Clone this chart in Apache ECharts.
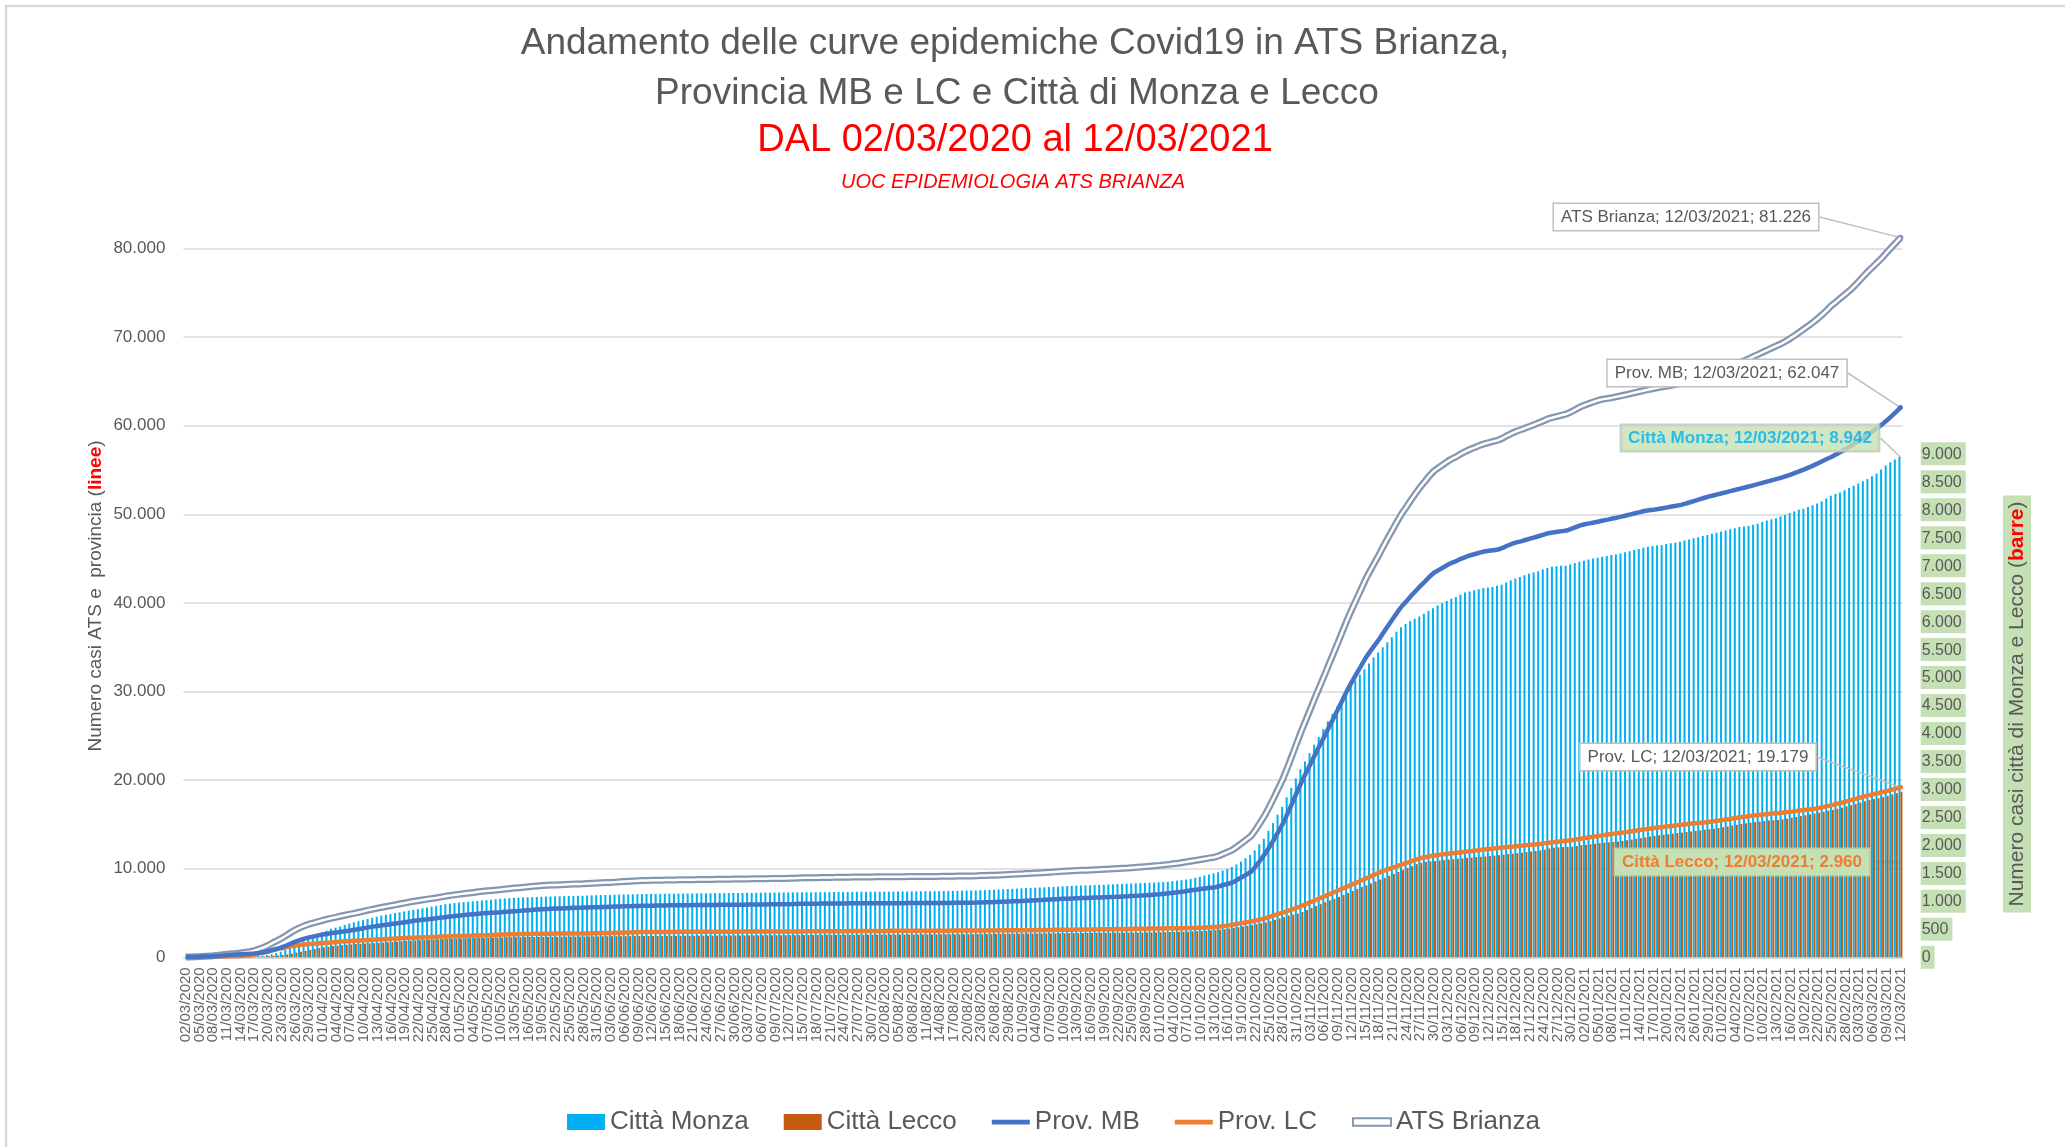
<!DOCTYPE html>
<html><head><meta charset="utf-8">
<script src="https://cdn.jsdelivr.net/npm/echarts@6/dist/echarts.min.js"></script>
<style>html,body{margin:0;padding:0;background:#fff}#c{width:2065px;height:1147px}</style>
</head><body><div id="c"></div>
<script>
function pad(n){return (n<10?'0':'')+n;}
// categories: daily dates 02/03/2020 .. 12/03/2021
const categories = (function(){const out=[];const t0=Date.UTC(2020,2,2);for(let i=0;i<376;i++){const d=new Date(t0+i*86400000);out.push(pad(d.getUTCDate())+'/'+pad(d.getUTCMonth()+1)+'/'+d.getUTCFullYear());}return out;})();
const LABEL_EVERY = 3;

const leftTicks = [0,10000,20000,30000,40000,50000,60000,70000,80000];
const rightTicks = [0,500,1000,1500,2000,2500,3000,3500,4000,4500,5000,5500,6000,6500,7000,7500,8000,8500,9000];

const cittaMonza = [
0,0,0,1,2,3,4,5,6,8,
10,12,14,16,18,22,26,30,40,55,
75,100,130,170,220,260,300,335,370,405,
440,475,510,530,550,580,605,625,645,665,
685,705,725,745,760,775,790,805,820,835,
846,860,875,890,905,920,935,950,960,970,
978,985,992,1000,1008,1015,1022,1030,1038,1045,
1052,1058,1062,1066,1070,1073,1076,1079,1082,1085,
1087,1089,1091,1093,1095,1097,1099,1101,1104,1107,
1110,1112,1114,1116,1118,1120,1122,1124,1126,1128,
1130,1131,1132,1133,1134,1135,1136,1137,1138,1139,
1140,1141,1142,1143,1144,1145,1146,1147,1148,1148,
1149,1150,1151,1152,1152,1153,1154,1155,1156,1157,
1157,1158,1159,1160,1160,1161,1162,1162,1163,1164,
1165,1165,1166,1167,1168,1168,1169,1170,1171,1171,
1172,1173,1174,1174,1175,1175,1176,1177,1177,1178,
1179,1180,1181,1181,1182,1183,1184,1185,1186,1188,
1190,1192,1194,1196,1199,1202,1205,1208,1212,1216,
1220,1224,1228,1232,1236,1240,1244,1248,1252,1256,
1260,1264,1268,1272,1276,1280,1283,1286,1289,1292,
1295,1298,1302,1305,1309,1312,1316,1320,1323,1327,
1330,1333,1337,1341,1345,1352,1360,1370,1380,1390,
1400,1420,1440,1460,1480,1500,1520,1550,1580,1615,
1660,1710,1770,1830,1910,2020,2120,2260,2400,2550,
2690,2860,3030,3200,3360,3500,3650,3800,3940,4080,
4220,4350,4480,4610,4740,4850,4950,5050,5150,5250,
5360,5450,5540,5630,5720,5820,5900,5960,6010,6050,
6090,6140,6190,6240,6290,6330,6370,6410,6440,6480,
6520,6540,6560,6580,6600,6610,6620,6640,6660,6700,
6740,6770,6800,6830,6860,6880,6900,6930,6960,6980,
6990,7000,7000,7020,7050,7070,7090,7110,7130,7140,
7160,7175,7190,7200,7220,7240,7260,7280,7300,7320,
7340,7350,7360,7370,7390,7400,7410,7430,7450,7470,
7490,7510,7530,7550,7570,7590,7610,7630,7650,7670,
7690,7700,7710,7730,7750,7780,7810,7830,7850,7880,
7910,7940,7970,8000,8020,8050,8080,8110,8150,8200,
8250,8280,8310,8350,8390,8430,8470,8510,8550,8600,
8650,8720,8790,8850,8900,8942];

const cittaLecco = [
0,0,0,0,0,1,1,1,2,2,
3,3,4,5,6,8,10,14,18,24,
30,40,52,66,85,100,115,130,150,165,
178,190,200,208,216,224,230,236,241,245,
249,253,256,262,268,274,280,286,292,297,
300,304,308,312,316,320,325,330,333,336,
338,340,342,344,345,347,349,351,353,355,
357,358,359,360,361,362,363,364,365,366,
366,367,367,368,368,369,370,371,372,373,
374,375,376,377,377,378,378,379,379,380,
380,381,381,382,382,383,383,384,384,385,
385,386,386,387,387,388,388,389,389,390,
390,391,391,392,392,393,393,394,394,395,
395,396,396,397,397,398,398,399,399,400,
400,400,401,401,402,402,403,403,404,404,
404,405,405,405,406,406,406,407,407,407,
408,408,408,409,409,410,410,411,411,412,
412,413,413,414,414,415,415,416,417,418,
419,420,421,422,423,423,424,425,426,427,
428,429,430,431,431,432,433,434,435,436,
437,438,438,439,440,440,441,441,442,443,
444,445,446,447,448,450,452,454,457,460,
463,467,471,475,480,485,492,502,514,527,
538,550,563,577,592,608,624,645,668,695,
720,745,765,780,810,845,880,915,950,985,
1015,1045,1080,1115,1150,1185,1220,1255,1285,1320,
1355,1390,1420,1455,1490,1525,1560,1595,1630,1665,
1690,1705,1715,1722,1730,1738,1746,1754,1762,1769,
1776,1783,1790,1797,1804,1811,1818,1825,1834,1843,
1852,1861,1870,1880,1890,1900,1910,1925,1945,1960,
1966,1970,1972,1976,1990,2005,2012,2020,2030,2040,
2048,2055,2062,2070,2080,2092,2105,2118,2130,2145,
2160,2170,2180,2190,2200,2210,2220,2230,2240,2250,
2260,2270,2280,2290,2300,2310,2325,2340,2355,2370,
2385,2395,2405,2415,2425,2435,2445,2450,2455,2465,
2480,2495,2510,2525,2540,2555,2570,2585,2600,2620,
2635,2655,2675,2700,2720,2740,2765,2790,2810,2830,
2845,2865,2885,2910,2935,2960];

const provMB = [
20,30,45,60,80,100,130,160,200,245,
280,310,340,370,400,440,500,570,680,820,
960,1120,1330,1560,1770,1950,2110,2250,2360,2470,
2570,2660,2740,2810,2880,2950,3030,3110,3200,3290,
3380,3460,3540,3610,3680,3750,3820,3890,3960,4040,
4120,4180,4240,4300,4360,4420,4480,4550,4610,4670,
4720,4770,4820,4870,4920,4960,5000,5030,5060,5090,
5130,5160,5200,5240,5280,5320,5360,5400,5430,5460,
5480,5500,5520,5540,5560,5580,5600,5615,5630,5645,
5660,5675,5690,5705,5720,5735,5750,5765,5780,5795,
5805,5815,5825,5835,5845,5855,5862,5868,5874,5880,
5885,5890,5895,5900,5905,5910,5915,5920,5925,5930,
5935,5940,5945,5950,5955,5960,5965,5970,5975,5980,
5985,5990,6000,6010,6030,6040,6045,6050,6055,6060,
6065,6070,6075,6080,6085,6090,6092,6094,6096,6098,
6100,6102,6104,6106,6108,6110,6112,6114,6116,6118,
6120,6122,6124,6126,6128,6130,6135,6140,6145,6150,
6155,6160,6170,6180,6195,6210,6225,6240,6260,6280,
6300,6320,6340,6360,6385,6410,6435,6460,6490,6520,
6545,6570,6600,6620,6640,6660,6680,6700,6720,6740,
6760,6780,6800,6820,6840,6860,6880,6910,6940,6970,
7000,7040,7080,7120,7170,7220,7280,7340,7410,7480,
7560,7620,7700,7770,7840,7890,8020,8170,8300,8460,
8750,9050,9350,9650,10250,10950,11650,12450,13300,14200,
15140,16250,17400,18600,19750,20800,21850,22900,23900,24900,
25950,26960,28000,29050,30100,31050,31950,32850,33750,34500,
35200,35900,36700,37450,38200,38950,39650,40200,40800,41350,
41900,42400,42950,43400,43700,44000,44300,44550,44750,45000,
45200,45380,45520,45680,45800,45880,45950,46020,46200,46450,
46650,46830,46950,47100,47250,47400,47550,47700,47870,47950,
48020,48100,48170,48350,48550,48750,48880,48980,49080,49180,
49300,49400,49520,49620,49740,49870,49990,50120,50240,50370,
50450,50520,50600,50690,50780,50880,50960,51060,51200,51360,
51520,51680,51840,51990,52120,52250,52380,52510,52640,52770,
52900,53030,53160,53300,53440,53580,53720,53860,54000,54140,
54300,54480,54680,54880,55080,55290,55520,55770,56020,56270,
56500,56780,57060,57350,57670,58000,58350,58700,59050,59400,
59780,60150,60580,61050,61530,62047];

const provLC = [
10,15,20,25,30,40,50,65,80,95,
110,130,160,190,230,300,420,530,650,800,
920,1030,1130,1240,1330,1400,1450,1500,1530,1570,
1610,1650,1690,1730,1780,1820,1850,1870,1890,1920,
1950,1980,2010,2040,2070,2100,2120,2150,2180,2200,
2210,2230,2250,2270,2290,2310,2340,2360,2380,2400,
2410,2420,2435,2450,2470,2485,2500,2520,2540,2560,
2580,2600,2610,2620,2630,2640,2650,2660,2665,2670,
2672,2674,2676,2678,2680,2682,2685,2690,2700,2710,
2720,2730,2740,2750,2765,2780,2795,2810,2825,2840,
2850,2855,2858,2860,2862,2864,2866,2868,2870,2872,
2874,2876,2878,2880,2882,2884,2886,2888,2890,2892,
2894,2896,2898,2900,2902,2904,2906,2908,2910,2912,
2914,2916,2918,2920,2922,2925,2928,2931,2934,2937,
2940,2943,2946,2950,2954,2958,2962,2966,2970,2974,
2976,2978,2980,2982,2984,2986,2988,2990,2992,2994,
2996,2998,3000,3002,3004,3006,3008,3010,3012,3014,
3016,3018,3020,3022,3024,3026,3030,3034,3038,3042,
3046,3050,3054,3058,3062,3066,3072,3078,3084,3090,
3096,3102,3108,3114,3120,3126,3132,3138,3144,3150,
3156,3162,3168,3176,3184,3192,3200,3210,3220,3228,
3236,3244,3250,3256,3262,3268,3274,3280,3290,3300,
3310,3325,3340,3360,3385,3410,3440,3520,3600,3690,
3770,3860,3950,4050,4150,4260,4380,4560,4740,4900,
5050,5230,5420,5600,5790,6000,6220,6440,6660,6880,
7100,7320,7540,7760,7980,8200,8420,8640,8870,9100,
9330,9560,9770,9950,10120,10300,10480,10660,10840,11020,
11180,11300,11400,11490,11560,11620,11680,11740,11800,11860,
11920,11980,12040,12100,12160,12220,12280,12340,12390,12440,
12490,12540,12590,12640,12690,12740,12800,12860,12920,12980,
13040,13100,13160,13220,13300,13380,13460,13540,13620,13700,
13780,13860,13930,13990,14060,14130,14200,14280,14360,14440,
14520,14590,14650,14710,14770,14830,14890,14950,15010,15070,
15120,15170,15220,15280,15340,15410,15480,15560,15640,15720,
15800,15870,15940,16000,16060,16120,16170,16220,16270,16320,
16380,16440,16500,16560,16620,16680,16740,16840,16950,17060,
17170,17300,17430,17570,17710,17850,18000,18150,18280,18400,
18520,18630,18760,18900,19040,19179];

const atsBrianza = [
30,45,65,85,110,140,180,225,280,340,
390,440,500,560,630,740,920,1100,1330,1620,
1880,2150,2460,2800,3100,3350,3560,3750,3890,4040,
4180,4310,4430,4540,4660,4770,4880,4980,5090,5210,
5330,5440,5550,5650,5750,5850,5940,6040,6140,6240,
6330,6410,6490,6570,6650,6730,6820,6910,6990,7070,
7130,7190,7255,7320,7390,7445,7500,7550,7600,7650,
7710,7760,7810,7860,7910,7960,8010,8060,8095,8130,
8152,8174,8196,8218,8240,8262,8285,8305,8330,8355,
8380,8405,8430,8455,8485,8515,8545,8575,8605,8635,
8655,8670,8683,8695,8707,8719,8728,8736,8744,8752,
8759,8766,8773,8780,8787,8794,8801,8808,8815,8822,
8829,8836,8843,8850,8857,8864,8871,8878,8885,8892,
8899,8906,8918,8930,8952,8965,8973,8981,8989,8997,
9005,9013,9021,9030,9039,9048,9054,9060,9066,9072,
9076,9080,9084,9088,9092,9096,9100,9104,9108,9112,
9116,9120,9124,9128,9132,9136,9143,9150,9157,9164,
9171,9178,9190,9202,9219,9236,9255,9274,9298,9322,
9346,9370,9394,9418,9447,9476,9507,9538,9574,9610,
9641,9672,9708,9734,9760,9786,9812,9838,9864,9890,
9916,9942,9968,9996,10024,10052,10080,10120,10160,10198,
10236,10284,10330,10376,10432,10488,10554,10620,10700,10780,
10870,10945,11040,11130,11225,11300,11460,11690,11900,12150,
12520,12910,13300,13700,14400,15210,16030,17010,18040,19100,
20190,21480,22820,24200,25540,26800,28070,29340,30560,31780,
33050,34280,35540,36810,38080,39250,40370,41490,42620,43600,
44530,45460,46470,47400,48320,49250,50130,50860,51640,52370,
53080,53700,54350,54890,55260,55620,55980,56290,56550,56860,
57120,57360,57560,57780,57960,58100,58230,58360,58590,58890,
59140,59370,59540,59740,59940,60140,60350,60560,60790,60930,
61060,61200,61330,61570,61850,62130,62340,62520,62700,62880,
63000,63080,63170,63280,63390,63500,63620,63740,63860,63980,
64090,64200,64300,64390,64480,64570,64670,64780,64900,65060,
65220,65380,65550,65720,65900,66100,66300,66500,66700,66920,
67140,67370,67600,67840,68080,68320,68560,68800,69040,69270,
69560,69880,70220,70580,70950,71320,71700,72130,72580,73080,
73600,74000,74450,74870,75300,75800,76350,76900,77450,77950,
78450,78950,79550,80100,80650,81226];

const FONT = "'Liberation Sans', Arial, sans-serif";
const GRAY = '#595959';
const fmt = v => String(Math.round(v)).replace(/\B(?=(\d{3})+(?!\d))/g, '.');
const last = categories.length - 1;
const endItem = (arr, extra) => arr.map((v, i) => i === last ? Object.assign({ value: v }, extra) : v);
const calloutFmt = p => p.seriesName + '; ' + p.name + '; ' + fmt(Array.isArray(p.value) ? p.value[1] : p.value);
const whiteBox = { fontFamily: FONT, fontSize: 17, color: GRAY, backgroundColor: '#ffffff', borderColor: '#bfbfbf', borderWidth: 1.5, padding: [5, 7, 4, 7], formatter: calloutFmt };
const greyLine = { show: true, smooth: false, lineStyle: { color: '#bfbfbf', width: 1.5 } };

const chart = echarts.init(document.getElementById('c'), null, { renderer: 'canvas' });
chart.setOption({
  animation: false,
  backgroundColor: '#ffffff',
  title: [
    { text: 'Andamento delle curve epidemiche Covid19 in ATS Brianza,', left: 1010, top: 20, textAlign: 'center', textStyle: { fontFamily: FONT, fontSize: 37, fontWeight: 'normal', color: GRAY } },
    { text: 'Provincia MB e LC e Città di Monza e Lecco', left: 1012, top: 70, textAlign: 'center', textStyle: { fontFamily: FONT, fontSize: 37, fontWeight: 'normal', color: GRAY } },
    { text: 'DAL 02/03/2020 al 12/03/2021', left: 1010, top: 117, textAlign: 'center', textStyle: { fontFamily: FONT, fontSize: 38, fontWeight: 'normal', color: '#FF0000' } },
    { text: 'UOC EPIDEMIOLOGIA ATS BRIANZA', left: 1008, top: 167, textAlign: 'center', textStyle: { fontFamily: FONT, fontSize: 20, fontWeight: 'normal', fontStyle: 'italic', color: '#FF0000' } }
  ],
  graphic: [
    { type: 'rect', x: 6, y: 6, silent: true, shape: { x: 0, y: 0, width: 2200, height: 1300 }, style: { fill: 'none', stroke: '#d9d9d9', lineWidth: 2.5 } },
    { type: 'text', x: 96, y: 596, rotation: Math.PI / 2, silent: true,
      style: { text: '{a|Numero casi ATS e  provincia (}{r|linee}{a|)}', align: 'center', verticalAlign: 'middle',
        rich: { a: { fontFamily: FONT, fontSize: 19, fill: GRAY }, r: { fontFamily: FONT, fontSize: 19, fill: '#FF0000', fontWeight: 'bold' } } } },
    { type: 'text', x: 2017, y: 704, rotation: Math.PI / 2, silent: true,
      style: { text: '{a|Numero casi città di Monza e Lecco (}{r|barre}{a|)}', align: 'center', verticalAlign: 'middle', backgroundColor: '#C5E0B4', padding: [4, 6, 3, 6],
        rich: { a: { fontFamily: FONT, fontSize: 21, fill: GRAY }, r: { fontFamily: FONT, fontSize: 21, fill: '#FF0000', fontWeight: 'bold' } } } }
  ],
  legend: {
    left: 562, top: 1104, itemGap: 35, itemWidth: 38, itemHeight: 16,
    textStyle: { fontFamily: FONT, fontSize: 26, color: GRAY },
    data: [
      { name: 'Città Monza', icon: 'rect' },
      { name: 'Città Lecco', icon: 'rect' },
      { name: 'Prov. MB', icon: 'path://M0,0h40v5h-40z' },
      { name: 'Prov. LC', icon: 'path://M0,0h40v5h-40z' },
      { name: 'ATS Brianza', icon: 'path://M0,0h40v8h-40z', itemStyle: { color: '#ffffff', borderColor: '#8497B0', borderWidth: 2 } }
    ]
  },
  grid: { left: 183.4, right: 162.3, top: 248.5, bottom: 189.7, containLabel: false, outerBoundsMode: 'none' },
  xAxis: {
    type: 'category', data: categories, boundaryGap: true,
    axisLine: { show: true, lineStyle: { color: '#d9d9d9', width: 1.5 } },
    axisTick: { show: false },
    axisLabel: { interval: 0, rotate: 90, showMinLabel: true, showMaxLabel: true, hideOverlap: false,
      formatter: (value, index) => (index % LABEL_EVERY === 0 ? value : ''),
      fontFamily: FONT, fontSize: 15, color: '#666666', margin: 10 }
  },
  yAxis: [
    { type: 'value', min: leftTicks[0], max: leftTicks[leftTicks.length - 1], interval: leftTicks[1] - leftTicks[0],
      axisLine: { show: false }, axisTick: { show: false },
      splitLine: { show: true, lineStyle: { color: '#d9d9d9', width: 1.5 } },
      axisLabel: { formatter: fmt, fontFamily: FONT, fontSize: 17, color: GRAY, margin: 18 } },
    { type: 'value', position: 'right', min: rightTicks[0], max: 12670, interval: rightTicks[1] - rightTicks[0],
      axisLine: { show: false }, axisTick: { show: false }, splitLine: { show: false },
      axisLabel: { margin: 18, formatter: v => (v <= rightTicks[rightTicks.length - 1] ? '{g|' + fmt(v) + '}' : ''),
        rich: { g: { fontFamily: FONT, fontSize: 16, color: GRAY, backgroundColor: '#C5E0B4', padding: [4, 4, 3, 1] } } } }
  ],
  series: [
    { name: 'Città Monza', type: 'bar', yAxisIndex: 1, data: cittaMonza, barWidth: 2, barGap: '0%', z: 2,
      itemStyle: { color: '#00B0F0' } },
    { name: 'Città Lecco', type: 'bar', yAxisIndex: 1, data: endItem(cittaLecco, { label: { show: true } }), barWidth: 2, barGap: '0%', z: 2,
      itemStyle: { color: '#C55A11' },
      label: { show: false, fontFamily: FONT, fontSize: 17, fontWeight: 'bold', color: '#ED7D31', backgroundColor: '#C5E0B4', borderColor: '#b4cfa3', borderWidth: 1.5, padding: [5, 7, 4, 7], formatter: calloutFmt },
      labelLayout: { x: 1742, y: 862, align: 'center', verticalAlign: 'middle' },
      labelLine: { show: true, smooth: false, lineStyle: { color: '#C5E0B4', width: 3 } } },
    { name: 'Prov. LC', type: 'line', data: endItem(provLC, { symbol: 'circle', symbolSize: 5, label: { show: true } }), symbol: 'none', showSymbol: true, showAllSymbol: true, z: 3,
      lineStyle: { color: '#ED7D31', width: 4.5 }, itemStyle: { color: '#ED7D31' },
      label: Object.assign({ show: false }, whiteBox),
      labelLayout: { x: 1698, y: 757, align: 'center', verticalAlign: 'middle' }, labelLine: greyLine },
    { name: 'ATS Brianza', type: 'line', data: endItem(atsBrianza, { symbol: 'circle', symbolSize: 6, label: { show: true } }), symbol: 'none', showSymbol: true, showAllSymbol: true, z: 4, clip: false,
      lineStyle: { color: '#8497B0', width: 7 }, itemStyle: { color: '#8497B0' },
      label: Object.assign({ show: false }, whiteBox),
      labelLayout: { x: 1686, y: 217, align: 'center', verticalAlign: 'middle' }, labelLine: greyLine },
    { name: 'ATS Brianza (interno)', type: 'line', data: atsBrianza, symbol: 'none', z: 5, clip: false, silent: true,
      lineStyle: { color: '#ffffff', width: 2.5 } },
    { name: 'Prov. MB', type: 'line', data: endItem(provMB, { symbol: 'circle', symbolSize: 5, label: { show: true } }), symbol: 'none', showSymbol: true, showAllSymbol: true, z: 6,
      lineStyle: { color: '#4472C4', width: 4.5 }, itemStyle: { color: '#4472C4' },
      label: Object.assign({ show: false }, whiteBox),
      labelLayout: { x: 1727, y: 373, align: 'center', verticalAlign: 'middle' }, labelLine: greyLine },
    { name: 'Città Monza', type: 'scatter', yAxisIndex: 1, z: 10, silent: true, symbolSize: 1,
      data: [[last, cittaMonza[last]]], itemStyle: { color: '#00B0F0' },
      label: { show: true, fontFamily: FONT, fontSize: 17, fontWeight: 'bold', color: '#00B0F0', backgroundColor: '#C5E0B4', borderColor: '#bfbfbf', borderWidth: 1.5, padding: [5, 7, 4, 7],
        formatter: p => 'Città Monza; ' + categories[last] + '; ' + fmt(p.value[1]) },
      labelLayout: { x: 1750, y: 438, align: 'center', verticalAlign: 'middle' }, labelLine: greyLine }
  ]
});
</script>
</body></html>
